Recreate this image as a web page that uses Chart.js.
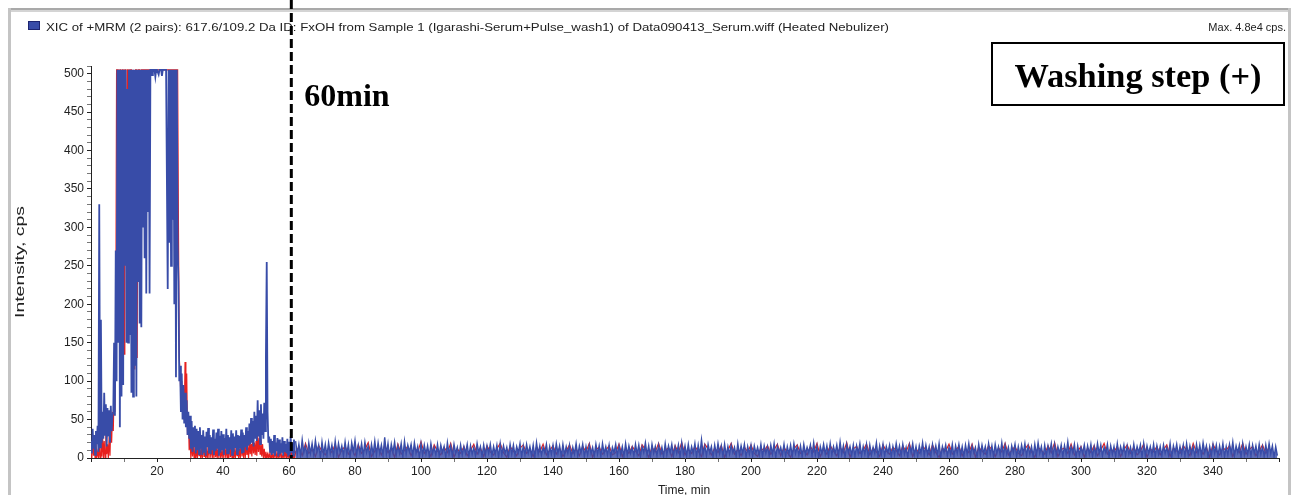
<!DOCTYPE html>
<html>
<head>
<meta charset="utf-8">
<script src="https://cdn.jsdelivr.net/npm/chart.js@4/dist/chart.umd.min.js"></script>
<style>
html,body{margin:0;padding:0;background:#fff;}
#wrap{width:1296px;height:495px;}
</style>
</head>
<body>
<div id="wrap"><canvas id="c" width="1296" height="495"></canvas></div>
<script>
// ---------- DATA ----------
const headerText = "XIC of +MRM (2 pairs): 617.6/109.2 Da ID: FxOH from Sample 1 (Igarashi-Serum+Pulse_wash1) of Data090413_Serum.wiff (Heated Nebulizer)";
const maxText = "Max. 4.8e4 cps.";
const xTitle = "Time, min";
const yTitle = "Intensity, cps";
const markerLabel = "60min";
const boxLabel = "Washing step (+)";
const markerTime = 60.7;

// early part: one value every 0.25 min from t = 0
const earlyStart = 0, earlyStep = 0.25;
const blueEarly = [
22,6,38,12, 30,4,35,18, 42,8,330,14, 180,20,60,25, 85,30,70,15, 65,28,62,20, 68,35,55,60, 150,55,270,100,
505,150,505,40, 505,80,505,95, 505,250,505,150, 480,150,505,160, 505,85,505,80, 505,120,505,80, 505,230,505,175,
505,170,505,300, 505,260,505,214, 505,320,505,214, 505,505,498,505, 505,505,496,505, 505,505,499,505, 505,505,497,505,
505,505,505,505, 505,220,505,280, 505,250,505,310, 505,200,505,105, 505,280,230,100, 120,60,110,50, 95,45,85,40,
75,30,60,25, 55,12,48,8, 40,15,42,6, 38,10,35,5, 40,12,30,4, 36,8,28,3, 34,14,39,6, 30,5,27,10,
37,4,25,9, 33,12,38,3, 29,7,35,10, 31,4,26,12, 38,6,30,5, 27,11,36,4, 32,8,28,13, 36,5,30,9,
29,12,37,6, 33,7,30,14, 40,10,35,16, 45,18,52,20, 48,15,60,25, 55,22,75,28, 62,18,70,30, 58,25,72,35,
130,255,60,20, 28,8,25,4, 22,6,30,3, 20,9,26,2, 24,5,19,7, 27,3,22,8, 18,6,25,2, 21,4,28,7, 19,3,24,6
];
const redEarly = [
20,0,25,3, 12,0,18,2, 8,0,15,0, 40,2,30,0, 22,0,35,5, 18,0,28,3, 45,20,60,35, 90,60,150,505,
505,505,380,505, 505,150,505,505, 135,505,505,300, 505,505,420,505, 505,505,120,505, 505,115,505,505, 130,505,505,505,
420,505,505,505, 505,505,505,505, 505,505,505,505, 505,505,505,505, 505,505,505,505, 505,505,505,505, 505,505,505,505,
505,505,505,505, 505,505,505,505, 505,505,505,505, 505,505,505,505, 505,505,300,130, 110,80,100,60, 90,50,125,70,
110,30,55,10, 30,0,22,2, 18,0,15,0, 12,0,20,3, 16,0,10,0, 22,2,14,0, 9,0,18,0, 20,4,12,0,
15,0,22,1, 11,0,17,0, 19,2,8,0, 14,0,21,3, 10,0,16,0, 23,1,12,0, 17,0,9,0, 20,3,14,0,
12,0,24,2, 16,0,19,0, 22,4,13,0, 25,5,18,2, 28,6,20,4, 22,3,30,8, 26,5,24,2, 18,0,12,0,
8,0,5,0, 6,0,10,0, 4,0,8,0, 12,0,5,0, 7,0,14,0, 3,0,9,0, 11,0,6,0, 5,0,13,0, 8,0,4,0
];

// late part (baseline noise): blue every 0.5 min, red every 1 min, from t = 62
const lateStart = 62, blueLateStep = 0.5, redLateStep = 1;
const blueLate = [
22,5,18,3,24,7,16,2,20,6,19,4,23,8,17,1,21,5,18,3,
20,6,17,2,22,4,19,7,16,3,21,5,18,1,20,8,23,4,17,6,
19,3,21,7,16,2,18,5,22,4,20,6,17,3,27,5,19,2,18,7,
21,4,16,6,19,2,22,5,17,8,18,3,20,6,15,1,19,4,17,5,
16,2,19,6,14,4,18,3,17,7,15,1,20,5,16,3,18,6,14,2,
17,4,15,6,18,2,16,5,14,3,19,7,15,2,17,4,16,6,18,3,
15,5,17,1,19,4,16,6,14,2,18,5,17,3,15,7,19,2,16,4,
18,6,15,3,17,1,20,5,16,4,14,7,18,2,15,5,17,3,19,6,
16,2,18,4,15,6,17,1,14,5,19,3,16,7,18,2,15,4,17,6,
14,3,18,5,16,2,19,6,15,4,17,1,14,7,18,3,16,5,15,2,
19,4,16,6,14,3,18,5,17,2,15,7,20,4,16,1,18,6,15,3,
17,5,14,2,19,4,16,7,18,3,15,6,17,1,20,5,16,3,18,4,
15,6,19,2,17,4,24,5,16,3,18,7,15,1,17,4,19,6,16,2,
18,3,15,5,17,7,14,2,19,4,16,6,18,1,15,5,17,3,16,6,
14,4,18,2,16,6,15,3,17,5,19,1,16,7,14,4,18,2,15,5,
17,3,19,6,15,4,16,2,18,5,14,7,17,3,20,4,16,1,15,6,
18,5,16,2,19,4,15,6,17,3,21,5,16,1,18,7,15,4,17,2,
16,6,19,3,15,5,18,1,17,4,14,6,20,2,16,5,18,3,15,7,
17,2,15,4,19,6,16,3,18,5,14,1,17,7,19,4,15,2,16,6,
20,3,17,5,15,2,18,6,16,4,19,1,15,7,17,3,14,5,18,2,
16,6,18,4,15,2,17,5,19,3,16,7,14,1,18,4,17,6,15,3,
19,5,16,2,18,6,15,4,20,3,17,5,14,1,16,7,18,2,15,4,
17,6,19,3,16,5,15,2,18,4,20,6,15,1,17,3,16,7,19,2,
18,4,15,6,17,2,16,5,21,3,15,7,18,1,16,4,14,6,17,3,
16,5,18,2,15,4,19,6,17,3,14,7,18,1,16,5,15,2,19,4,
15,6,17,3,16,5,14,2,18,4,15,7,17,1,19,3,16,6,15,4,
18,2,16,5,15,3,17,6,14,4,19,1,16,7,18,3,15,5,17,2,
19,4,16,6,15,2,18,5,17,3,20,7,16,1,15,4,18,6,17,3,
16,5,19,2,15,4,18,6,21,3,16,7,17,1,19,4,15,5,18,2,
17,6,16,3,18,5,15,2,17,4,19,6,16,1,15,3
];
const redLate = [
8,14,3,19,6,11,2,16,9,4,13,7,18,1,10,15,5,12,3,17,
6,11,20,2,9,14,4,16,7,12,1,18,5,10,15,3,13,8,21,6,
11,2,17,9,4,14,7,19,1,12,6,15,3,10,18,5,13,2,16,8,
4,12,19,7,1,15,9,3,13,17,6,11,2,14,8,18,4,10,16,5,
13,2,9,17,6,12,3,15,8,19,1,11,14,5,10,16,4,7,18,2,
12,6,15,9,3,17,11,1,14,8,19,5,10,13,2,16,7,20,4,11,
6,15,9,2,18,12,4,13,7,16,1,10,19,5,11,3,14,8,17,6,
2,13,9,16,5,11,18,3,14,7,1,12,17,6,10,4,15,8,19,2,
11,5,16,9,3,14,7,20,1,12,15,6,10,18,4,13,8,2,17,9,
5,14,10,3,16,8,19,2,12,6,15,11,4,17,7,1,13,9,18,5,
10,15,3,12,7,18,1,14,9,5,16,11,2,13,8,19,4,10,15,6,
3,12,17,8,1,14,10,5,16,7,20,2,11,13,6,18,4,9,15,1,
13,7,16,3,10,19,5,12,8,15,2,11,17,6,14,4,9,18,1,12,
8,15,4,11,17,2,13,9,6,16,10,3,19,7,12,5,14,1,18,9,
4,13,10,16,2,12,7,19,5,11,15,3,9,17,6,14
];

// ---------- build points ----------
function pts(vals, start, step){ return vals.map((v,i)=>({x:start+i*step, y:v})); }
const blueEarlyPts = pts(blueEarly, earlyStart, earlyStep);
const blueLatePts = pts(blueLate, lateStart, blueLateStep);
const redPts  = pts(redEarly, earlyStart, earlyStep).concat(pts(redLate, lateStart, redLateStep));

const BLUE = 'rgb(56,76,168)';
const RED = 'rgb(232,32,30)';

function fitText(ctx, text, x, y, targetW, align){
  const w = ctx.measureText(text).width;
  const s = targetW / w;
  ctx.save();
  ctx.translate(x, y);
  ctx.scale(s, 1);
  ctx.textAlign = align || 'left';
  ctx.fillText(text, 0, 0);
  ctx.restore();
}

const decor = {
  id: 'decor',
  beforeDraw(chart){
    const ctx = chart.ctx;
    ctx.save();
    ctx.fillStyle = '#fff';
    ctx.fillRect(0,0,chart.width,chart.height);
    ctx.fillStyle = '#a9a9a9'; ctx.fillRect(8,8,1283,2);
    ctx.fillStyle = '#d4d4d4'; ctx.fillRect(8,10,1283,2);
    ctx.fillStyle = '#c4c4c4'; ctx.fillRect(8,8,3,487);
    ctx.fillStyle = '#c4c4c4'; ctx.fillRect(1288,8,3,487);
    ctx.restore();
  },
  afterDraw(chart){
    const ctx = chart.ctx;
    const xs = chart.scales.x, ys = chart.scales.y;
    ctx.save();
    ctx.fillStyle = BLUE; ctx.fillRect(28,21,12,9);
    ctx.strokeStyle = '#1d2570'; ctx.lineWidth = 1; ctx.strokeRect(28.5,21.5,11,8);
    ctx.fillStyle = '#222';
    ctx.font = '11px "Liberation Sans", Arial, sans-serif';
    ctx.textBaseline = 'alphabetic';
    fitText(ctx, headerText, 46, 31, 843, 'left');
    ctx.textAlign = 'right';
    ctx.fillText(maxText, 1286, 31);
    ctx.font = '12px "Liberation Sans", Arial, sans-serif';
    ctx.textAlign = 'center';
    ctx.fillText(xTitle, 684, 494);
    ctx.save();
    ctx.translate(24, 262);
    ctx.rotate(-Math.PI/2);
    ctx.font = '13px "Liberation Sans", Arial, sans-serif';
    fitText(ctx, yTitle, 0, 0, 112, 'center');
    ctx.restore();
    const mx = xs.getPixelForValue(markerTime);
    ctx.strokeStyle = '#000';
    ctx.lineWidth = 3;
    ctx.setLineDash([9,4]);
    ctx.beginPath(); ctx.moveTo(mx, 0); ctx.lineTo(mx, ys.bottom); ctx.stroke();
    ctx.setLineDash([]);
    ctx.fillStyle = '#000';
    ctx.font = 'bold 32px "Liberation Serif", "Times New Roman", serif';
    ctx.textAlign = 'left';
    ctx.fillText(markerLabel, mx + 13, 106);
    ctx.fillStyle = '#fff';
    ctx.fillRect(992, 43, 292, 62);
    ctx.strokeStyle = '#000'; ctx.lineWidth = 2;
    ctx.strokeRect(992, 43, 292, 62);
    ctx.fillStyle = '#000';
    ctx.font = 'bold 34px "Liberation Serif", "Times New Roman", serif';
    fitText(ctx, boxLabel, 1138, 87, 247, 'center');
    ctx.restore();
  }
};

new Chart(document.getElementById('c'), {
  type: 'line',
  data: {
    datasets: [
      { label: 'blue', data: blueEarlyPts, borderColor: BLUE, borderWidth: 1.8, pointRadius: 0, fill: false, tension: 0, order: 0 },
      { label: 'blue late', data: blueLatePts, borderColor: BLUE, backgroundColor: 'rgba(56,76,168,0.82)', borderWidth: 1.4, pointRadius: 0, fill: 'origin', tension: 0, order: 0 },
      { label: 'red', data: redPts, borderColor: RED, borderWidth: 1.2, pointRadius: 0, fill: false, tension: 0, order: 1 }
    ]
  },
  options: {
    responsive: false,
    animation: false,
    devicePixelRatio: 1,
    layout: { padding: { top: 66, right: 17, left: 0, bottom: 0 } },
    plugins: { legend: { display: false }, title: { display: false }, tooltip: { enabled: false }, filler: { propagate: false } },
    events: [],
    scales: {
      x: {
        type: 'linear', min: 0, max: 360,
        afterFit(s){ s.height = 37; },
        ticks: {
          stepSize: 10, autoSkip: false, maxRotation: 0, padding: 2,
          color: '#222', font: { family: '"Liberation Sans", Arial, sans-serif', size: 12 },
          callback: v => (v % 20 === 0 && v > 0 && v < 360) ? String(v) : ''
        },
        grid: { drawOnChartArea: false, drawTicks: true, tickLength: 4,
                tickColor: c => (c.tick && c.tick.value % 20 === 0) ? '#222' : '#777' },
        border: { display: true, color: '#222', width: 1 }
      },
      y: {
        type: 'linear', min: 0, max: 510,
        afterFit(s){ s.width = 91; },
        ticks: {
          stepSize: 10, autoSkip: false, padding: 3,
          color: '#222', font: { family: '"Liberation Sans", Arial, sans-serif', size: 12 },
          callback: v => (v % 50 === 0) ? String(v) : ''
        },
        grid: { drawOnChartArea: false, drawTicks: true, tickLength: 4,
                tickColor: c => (c.tick && c.tick.value % 50 === 0) ? '#222' : '#777' },
        border: { display: true, color: '#222', width: 1 }
      }
    }
  },
  plugins: [decor]
});
</script>
</body>
</html>
